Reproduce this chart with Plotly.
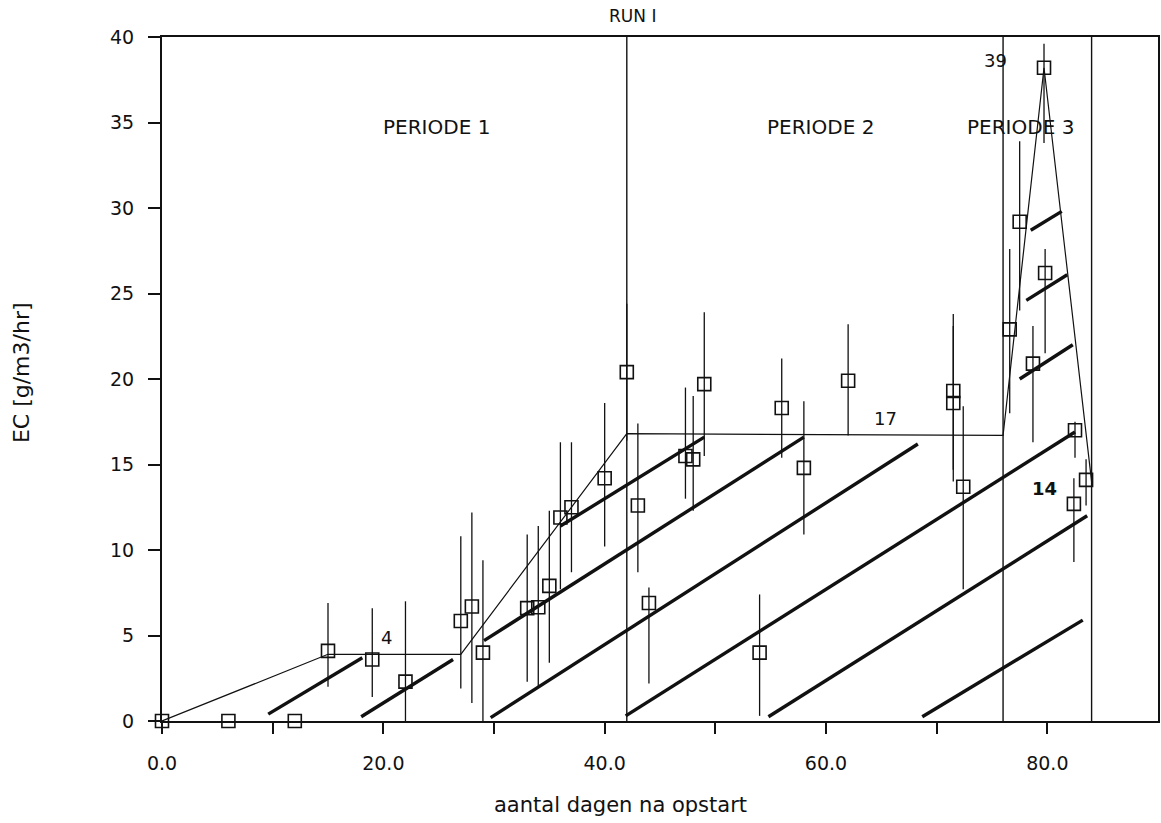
import plotly.graph_objects as go

# Measured EC values (day, value) with upper/lower error extents
days = [0, 6, 12, 15, 19, 22, 27, 28, 29,
        33, 34, 35, 36, 37, 40, 42, 43, 44, 47.3, 48, 49,
        54, 56, 58, 62, 71.5, 71.5, 72.4,
        76.6, 77.5, 78.7, 79.7, 79.8, 82.5, 82.4, 83.5]
ec = [0, 0, 0, 4.1, 3.6, 2.3, 5.85, 6.7, 4.0,
      6.6, 6.65, 7.9, 11.9, 12.5, 14.2, 20.4, 12.6, 6.9, 15.5, 15.3, 19.7,
      4.0, 18.3, 14.8, 19.9, 19.3, 18.6, 13.7,
      22.9, 29.2, 20.9, 38.2, 26.2, 17.0, 12.7, 14.1]
err_up = [0, 0, 0, 2.8, 3.0, 4.7, 4.95, 5.5, 5.4,
          4.3, 4.75, 4.4, 4.4, 3.8, 4.4, 4.0, 4.8, 0.9, 4.0, 3.7, 4.2,
          3.4, 2.9, 3.9, 3.3, 4.5, 4.5, 4.7,
          4.7, 4.7, 2.2, 1.4, 1.4, 0.5, 1.5, 1.2]
err_down = [0, 0, 0, 2.1, 2.2, 2.3, 3.95, 5.65, 4.0,
            4.3, 4.65, 4.5, 4.2, 3.8, 4.0, 4.0, 3.9, 4.7, 2.5, 3.0, 4.2,
            3.7, 2.9, 3.9, 3.2, 4.6, 4.6, 6.0,
            4.9, 5.2, 4.6, 4.4, 4.7, 1.6, 3.4, 1.5]

# Model curve (loading per period)
model_x = [0, 15, 27, 42, 76, 79.7, 84]
model_y = [0, 3.9, 3.9, 16.8, 16.7, 38.2, 14.0]

# Hatching segments (start/end in data units)
hatch_x0 = [9.6, 18.0, 29.1, 36.0, 29.7, 41.9, 54.8, 68.7, 78.5, 78.1, 77.5]
hatch_y0 = [0.4, 0.25, 4.7, 11.4, 0.2, 0.3, 0.25, 0.25, 28.7, 24.6, 20.0]
hatch_x1 = [18.1, 26.3, 58.0, 49.0, 68.3, 82.5, 83.6, 83.2, 81.3, 81.8, 82.3]
hatch_y1 = [3.7, 3.6, 16.6, 16.6, 16.2, 16.9, 12.0, 5.9, 29.8, 26.1, 22.0]

# Period boundaries
boundaries = [42, 76, 84]

# Text labels
period_labels = ["PERIODE 1", "PERIODE 2", "PERIODE 3"]
period_x = [24.8, 59.5, 77.6]
period_y = [34.75, 34.75, 34.75]
value_labels = ["4", "17", "39", "<b>14</b>"]
value_x = [20.3, 65.4, 75.3, 79.7]
value_y = [4.9, 17.7, 38.6, 13.6]

x_tickvals = [0, 10, 20, 30, 40, 50, 60, 70, 80]
x_ticktext = ["0.0", "", "20.0", "", "40.0", "", "60.0", "", "80.0"]
y_tickvals = [0, 5, 10, 15, 20, 25, 30, 35, 40]
y_ticktext = ["0", "5", "10", "15", "20", "25", "30", "35", "40"]

FONT = "DejaVu Sans"
INK = "#111111"

fig = go.Figure()

# hatch lines
hx, hy = [], []
for a, b, c, d in zip(hatch_x0, hatch_y0, hatch_x1, hatch_y1):
    hx += [a, c, None]
    hy += [b, d, None]
fig.add_trace(go.Scatter(x=hx, y=hy, mode="lines",
                         line=dict(color=INK, width=3.4), hoverinfo="skip"))

# period boundary lines
bx, by = [], []
for b in boundaries:
    bx += [b, b, None]
    by += [0, 40, None]
fig.add_trace(go.Scatter(x=bx, y=by, mode="lines",
                         line=dict(color=INK, width=1.4), hoverinfo="skip"))

# model curve
fig.add_trace(go.Scatter(x=model_x, y=model_y, mode="lines",
                         line=dict(color=INK, width=1.2), hoverinfo="skip"))

# measurements
fig.add_trace(go.Scatter(
    x=days, y=ec, mode="markers", cliponaxis=False,
    marker=dict(symbol="square-open", size=13, color=INK,
                line=dict(width=1.6, color=INK)),
    error_y=dict(type="data", symmetric=False, array=err_up,
                 arrayminus=err_down, width=0, thickness=1.3, color=INK),
))

def label(text, x, y, size, xref="x", yref="y", **kw):
    return dict(text=text, x=x, y=y, xref=xref, yref=yref, showarrow=False,
                xanchor="center", yanchor="middle",
                font=dict(size=size, family=FONT, color=INK), **kw)

annotations = []
for t, x, y in zip(period_labels, period_x, period_y):
    annotations.append(label(t, x, y, 20))
for t, x, y in zip(value_labels, value_x, value_y):
    annotations.append(label(t, x, y, 18))
annotations.append(label("RUN I", 0.472, 1.0, 17, "paper", "paper", yshift=21))
annotations.append(label("aantal dagen na opstart", 0.46, -0.123, 21, "paper", "paper"))
annotations.append(label("EC [g/m3/hr]", -0.1403, 0.509, 22, "paper", "paper",
                         textangle=-90))

fig.update_layout(
    width=1161, height=823,
    margin=dict(l=162, r=1, t=37, b=102),
    paper_bgcolor="white", plot_bgcolor="white",
    showlegend=False,
    annotations=annotations,
    font=dict(family=FONT, size=19, color=INK),
)
fig.update_xaxes(range=[0, 90], tickvals=x_tickvals, ticktext=x_ticktext,
                 ticks="outside", ticklen=11, tickwidth=1.5, tickcolor=INK,
                 showline=True, linecolor=INK, linewidth=2, mirror=True,
                 showgrid=False, zeroline=False, ticklabelstandoff=13,
                 tickfont=dict(size=19, family=FONT, color=INK))
fig.update_yaxes(range=[0, 40], tickvals=y_tickvals, ticktext=y_ticktext,
                 ticks="outside", ticklen=12, tickwidth=1.5, tickcolor=INK,
                 showline=True, linecolor=INK, linewidth=2, mirror=True,
                 showgrid=False, zeroline=False, ticklabelstandoff=10,
                 tickfont=dict(size=19, family=FONT, color=INK))

fig.write_html("out.html")
